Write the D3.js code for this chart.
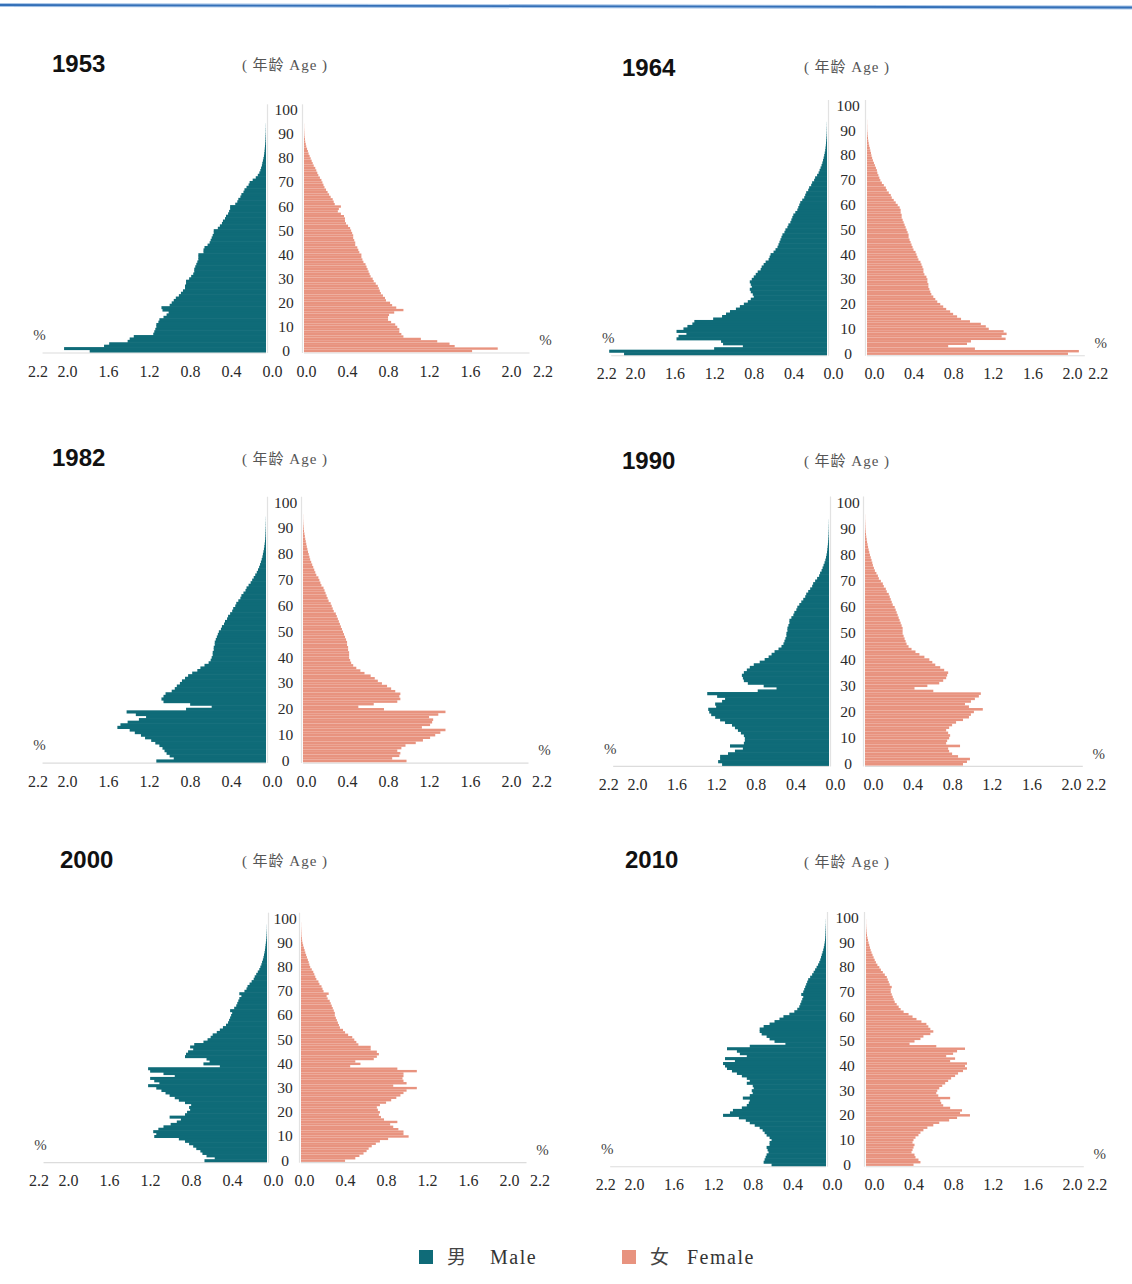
<!DOCTYPE html>
<html><head><meta charset="utf-8">
<script src="https://cdn.jsdelivr.net/npm/d3@7"></script>
<style>html,body{margin:0;padding:0;background:#fff;} svg{display:block}</style>
</head><body>
<svg id="c" width="1132" height="1284"></svg>
<script>
// ---------------- DATA (percent of total population, single years of age 0..100) ----------------
const years = ["1953","1964","1982","1990","2000","2010"];
const xTicks = [0, 0.4, 0.8, 1.2, 1.6, 2.0, 2.2];
const ageTicks = [0,10,20,30,40,50,60,70,80,90,100];
const sexLabels = [{zh:"男", en:"Male"}, {zh:"女", en:"Female"}];

const male1953 = [1.72,1.97,1.58,1.53,1.35,1.33,1.29,1.10,1.09,1.08,
1.07,1.07,1.05,1.04,1.00,0.97,0.95,1.01,1.02,0.94,
0.92,0.90,0.88,0.85,0.83,0.81,0.79,0.79,0.78,0.78,
0.75,0.73,0.71,0.70,0.70,0.69,0.68,0.67,0.66,0.66,
0.66,0.61,0.61,0.60,0.57,0.55,0.54,0.53,0.52,0.51,
0.51,0.47,0.45,0.43,0.42,0.40,0.39,0.37,0.36,0.35,
0.35,0.30,0.28,0.27,0.25,0.24,0.22,0.21,0.19,0.17,
0.16,0.13,0.10,0.08,0.065,0.055,0.048,0.04,0.036,0.03,
0.025,0.02,0.017,0.014,0.012,0.01,0.008,0.006,0.005,0.004,
0.003,0.002,0.002,0.001,0.001,0,0,0,0,0,0];
const female1953 = [1.64,1.89,1.47,1.42,1.30,1.14,0.97,0.95,0.93,0.93,
0.91,0.89,0.85,0.82,0.82,0.83,0.88,0.97,0.90,0.86,
0.84,0.80,0.79,0.77,0.75,0.74,0.73,0.72,0.70,0.68,
0.67,0.65,0.64,0.63,0.62,0.61,0.60,0.58,0.57,0.56,
0.56,0.54,0.53,0.52,0.50,0.50,0.49,0.48,0.48,0.47,
0.46,0.45,0.43,0.41,0.40,0.40,0.39,0.36,0.33,0.34,
0.36,0.30,0.29,0.28,0.26,0.245,0.23,0.215,0.20,0.19,
0.18,0.17,0.155,0.14,0.13,0.12,0.11,0.095,0.085,0.075,
0.065,0.055,0.045,0.038,0.03,0.022,0.017,0.012,0.009,0.006,
0.004,0.003,0.002,0.001,0.001,0,0,0,0,0,0];

const male1964 = [2.05,2.20,1.14,0.85,1.05,1.07,1.52,1.50,1.42,1.52,
1.45,1.41,1.36,1.34,1.15,1.06,1.02,0.98,0.92,0.88,
0.84,0.80,0.77,0.74,0.75,0.77,0.78,0.76,0.77,0.78,
0.76,0.74,0.72,0.70,0.67,0.66,0.64,0.62,0.59,0.58,
0.57,0.54,0.52,0.50,0.49,0.48,0.47,0.46,0.45,0.43,
0.42,0.40,0.39,0.37,0.36,0.35,0.34,0.32,0.30,0.29,
0.28,0.27,0.25,0.23,0.22,0.21,0.19,0.18,0.16,0.15,
0.13,0.12,0.10,0.085,0.075,0.065,0.055,0.047,0.04,0.034,
0.028,0.023,0.018,0.015,0.012,0.01,0.008,0.006,0.004,0.003,
0.002,0.002,0.001,0.001,0,0,0,0,0,0,0];
const female1964 = [2.03,2.14,1.09,0.82,1.01,1.05,1.40,1.36,1.41,1.38,
1.23,1.20,1.15,1.04,0.95,0.91,0.87,0.84,0.80,0.77,
0.74,0.71,0.69,0.67,0.65,0.64,0.63,0.62,0.62,0.61,
0.61,0.60,0.58,0.57,0.57,0.56,0.55,0.54,0.52,0.51,
0.50,0.49,0.47,0.46,0.45,0.44,0.43,0.42,0.42,0.41,
0.40,0.39,0.38,0.37,0.36,0.35,0.35,0.34,0.34,0.33,
0.31,0.29,0.27,0.25,0.24,0.22,0.20,0.19,0.17,0.15,
0.135,0.125,0.115,0.105,0.10,0.09,0.08,0.07,0.06,0.052,
0.045,0.04,0.034,0.028,0.022,0.017,0.013,0.01,0.007,0.005,
0.003,0.002,0.002,0.001,0.001,0,0,0,0,0,0];

const male1982 = [1.07,0.90,0.94,0.97,0.99,1.01,1.04,1.08,1.12,1.18,
1.22,1.28,1.33,1.45,1.42,1.35,1.24,1.17,1.27,1.36,
0.78,0.53,0.74,1.00,1.02,1.00,0.98,0.92,0.89,0.87,
0.84,0.82,0.79,0.76,0.72,0.67,0.64,0.60,0.56,0.54,
0.53,0.52,0.52,0.51,0.51,0.50,0.50,0.49,0.48,0.47,
0.46,0.44,0.43,0.41,0.40,0.38,0.37,0.35,0.33,0.32,
0.30,0.29,0.27,0.25,0.24,0.22,0.20,0.19,0.17,0.15,
0.135,0.12,0.105,0.09,0.078,0.067,0.058,0.05,0.042,0.035,
0.03,0.025,0.02,0.016,0.013,0.01,0.008,0.006,0.005,0.004,
0.003,0.002,0.002,0.001,0.001,0,0,0,0,0,0];
const female1982 = [1.01,0.87,0.94,0.95,0.92,0.96,1.00,1.10,1.17,1.24,
1.29,1.34,1.39,1.16,1.24,1.26,1.27,1.23,1.32,1.39,
0.79,0.54,0.69,0.92,0.95,0.94,0.95,0.90,0.86,0.82,
0.77,0.73,0.70,0.66,0.60,0.56,0.52,0.49,0.47,0.46,
0.45,0.45,0.45,0.44,0.44,0.43,0.43,0.42,0.41,0.40,
0.39,0.38,0.37,0.36,0.35,0.34,0.33,0.32,0.30,0.29,
0.28,0.27,0.25,0.24,0.23,0.22,0.21,0.20,0.18,0.17,
0.16,0.15,0.13,0.12,0.11,0.10,0.09,0.08,0.07,0.063,
0.056,0.049,0.043,0.037,0.032,0.027,0.022,0.018,0.014,0.01,
0.007,0.005,0.003,0.002,0.001,0.001,0,0,0,0,0];

const male1990 = [1.08,1.12,1.10,1.10,1.02,0.95,0.87,1.00,0.86,0.85,
0.85,0.86,0.89,0.92,0.95,0.98,1.05,1.10,1.15,1.19,
1.21,1.22,1.14,1.15,1.08,1.05,1.13,1.23,0.72,0.53,
0.66,0.82,0.86,0.87,0.88,0.86,0.83,0.80,0.76,0.70,
0.65,0.61,0.58,0.55,0.51,0.48,0.46,0.45,0.44,0.43,
0.43,0.42,0.42,0.41,0.40,0.40,0.38,0.36,0.35,0.33,
0.32,0.30,0.28,0.26,0.24,0.23,0.21,0.19,0.17,0.16,
0.14,0.12,0.10,0.09,0.075,0.065,0.055,0.045,0.037,0.03,
0.025,0.02,0.017,0.014,0.011,0.009,0.007,0.005,0.004,0.003,
0.002,0.002,0.001,0.001,0,0,0,0,0,0,0];
const female1990 = [0.99,1.03,1.06,0.94,0.88,0.85,0.84,0.96,0.82,0.83,
0.85,0.86,0.84,0.82,0.85,0.88,0.92,0.99,1.05,1.07,
1.10,1.19,1.05,1.01,1.07,1.11,1.15,1.17,0.69,0.50,
0.63,0.75,0.79,0.82,0.83,0.84,0.80,0.76,0.71,0.68,
0.65,0.60,0.55,0.51,0.47,0.44,0.42,0.41,0.40,0.39,
0.38,0.38,0.38,0.37,0.36,0.35,0.34,0.33,0.32,0.31,
0.30,0.28,0.27,0.26,0.25,0.24,0.22,0.21,0.19,0.18,
0.16,0.14,0.13,0.115,0.10,0.09,0.08,0.074,0.066,0.058,
0.05,0.043,0.037,0.031,0.026,0.021,0.017,0.013,0.01,0.007,
0.005,0.004,0.003,0.002,0.001,0.001,0,0,0,0,0];

const male2000 = [0.61,0.51,0.59,0.63,0.65,0.69,0.72,0.76,0.80,0.86,
1.10,1.08,1.11,1.06,1.01,0.94,0.88,0.84,0.95,0.80,
0.78,0.75,0.76,0.74,0.80,0.86,0.90,0.95,0.99,1.03,
1.08,1.16,1.05,1.10,1.14,0.90,1.01,1.14,1.16,0.46,
0.62,0.56,0.59,0.80,0.79,0.77,0.72,0.75,0.71,0.62,
0.58,0.55,0.53,0.49,0.46,0.43,0.40,0.38,0.37,0.36,
0.35,0.34,0.36,0.32,0.30,0.29,0.28,0.27,0.25,0.27,
0.22,0.20,0.19,0.17,0.15,0.13,0.12,0.105,0.09,0.075,
0.065,0.055,0.048,0.04,0.034,0.029,0.024,0.02,0.017,0.014,
0.011,0.008,0.006,0.004,0.003,0.002,0.001,0.001,0,0,0];
const female2000 = [0.43,0.53,0.57,0.61,0.64,0.66,0.69,0.73,0.77,0.85,
1.05,1.00,1.00,0.95,0.90,0.87,0.94,0.81,0.78,0.76,
0.77,0.75,0.74,0.77,0.83,0.88,0.93,0.97,1.00,1.03,
1.13,0.90,1.03,1.00,0.99,1.00,1.00,1.13,0.94,0.48,
0.58,0.53,0.71,0.74,0.76,0.74,0.68,0.68,0.56,0.54,
0.52,0.50,0.46,0.43,0.41,0.38,0.37,0.36,0.35,0.34,
0.33,0.33,0.32,0.31,0.30,0.29,0.28,0.26,0.25,0.27,
0.22,0.21,0.20,0.18,0.17,0.15,0.14,0.13,0.12,0.105,
0.09,0.082,0.075,0.067,0.058,0.05,0.042,0.035,0.028,0.021,
0.015,0.011,0.008,0.005,0.004,0.003,0.002,0.001,0.001,0,0];

const male2010 = [0.55,0.63,0.62,0.61,0.60,0.58,0.59,0.60,0.57,0.57,
0.55,0.57,0.60,0.62,0.64,0.67,0.72,0.77,0.81,0.88,
1.04,0.97,0.94,0.85,0.80,0.78,0.77,0.84,0.77,0.74,
0.75,0.73,0.74,0.80,0.77,0.80,0.85,0.90,0.95,1.00,
1.02,1.04,0.92,1.02,0.80,0.87,0.90,1.00,0.77,0.41,
0.52,0.57,0.60,0.65,0.67,0.67,0.63,0.57,0.52,0.47,
0.43,0.37,0.32,0.29,0.27,0.26,0.25,0.24,0.23,0.25,
0.23,0.22,0.21,0.20,0.19,0.18,0.16,0.14,0.125,0.11,
0.095,0.08,0.068,0.058,0.05,0.043,0.035,0.028,0.022,0.017,
0.013,0.01,0.008,0.006,0.005,0.004,0.003,0.002,0.001,0.001,0];
const female2010 = [0.48,0.55,0.53,0.50,0.49,0.46,0.47,0.48,0.49,0.47,
0.48,0.50,0.53,0.55,0.58,0.62,0.68,0.74,0.84,0.92,
1.05,0.95,0.97,0.85,0.78,0.76,0.75,0.85,0.73,0.71,
0.72,0.74,0.77,0.80,0.83,0.86,0.90,0.93,0.98,1.02,
1.00,1.02,0.85,0.90,0.81,0.88,0.92,1.00,0.71,0.44,
0.49,0.55,0.58,0.65,0.68,0.65,0.63,0.61,0.56,0.51,
0.47,0.43,0.38,0.35,0.33,0.31,0.29,0.28,0.27,0.26,
0.25,0.25,0.26,0.24,0.23,0.22,0.21,0.19,0.17,0.15,
0.135,0.115,0.10,0.088,0.077,0.066,0.056,0.047,0.04,0.033,
0.026,0.02,0.015,0.01,0.007,0.005,0.003,0.002,0.001,0.001,0];

const maleSeries   = {"1953":male1953,"1964":male1964,"1982":male1982,"1990":male1990,"2000":male2000,"2010":male2010};
const femaleSeries = {"1953":female1953,"1964":female1964,"1982":female1982,"1990":female1990,"2000":female2000,"2010":female2010};

// ---------------- LAYOUT ----------------
const layout = {
  "1953": {zL:266, zR:304, y0:351.0, step:2.407, k:102.5, tx:52,  ty:63,  ax:285, ay:65,  rs:2},
  "1964": {zL:827, zR:867, y0:353.7, step:2.477, k:99,    tx:622, ty:67,  ax:847, ay:67,  rs:7},
  "1982": {zL:266, zR:303, y0:761.0, step:2.583, k:102.5, tx:52,  ty:457, ax:285, ay:459, rs:3},
  "1990": {zL:829, zR:865, y0:764.3, step:2.617, k:99,    tx:622, ty:460, ax:847, ay:461, rs:8},
  "2000": {zL:267, zR:301, y0:1160.7,step:2.420, k:102.5, tx:60,  ty:859, ax:285, ay:861, rs:3},
  "2010": {zL:826, zR:866, y0:1164.7,step:2.467, k:99,    tx:625, ty:859, ax:847, ay:862, rs:8}
};
const colMale = "#0f6b78", colFemale = "#e8937f";
const serif = "'Liberation Serif','Times New Roman','Noto Sans CJK SC',serif";
const sans = "'Liberation Sans',Arial,sans-serif";

const svg = d3.select("#c");
svg.append("rect").attr("width",1132).attr("height",1284).attr("fill","#fff");
svg.append("line").attr("x1",0).attr("y1",5).attr("x2",1132).attr("y2",7.5)
   .attr("stroke","#a9c6e8").attr("stroke-width",4);
svg.append("line").attr("x1",0).attr("y1",5).attr("x2",1132).attr("y2",7.5)
   .attr("stroke","#3470b8").attr("stroke-width",1.8);

years.forEach(yr => {
  const L = layout[yr];
  const g = svg.append("g");
  const y  = d3.scaleLinear().domain([0,100]).range([L.y0, L.y0 - 100*L.step]);
  const xl = d3.scaleLinear().domain([0,2.2]).range([L.zL, L.zL - 2.2*L.k]);
  const xr = d3.scaleLinear().domain([0,2.2]).range([L.zR, L.zR + 2.2*L.k]);
  const h = L.step;
  const base = L.y0 + h/2 + 0.8;

  // faint axis lines
  g.append("line").attr("x1",xl(0)).attr("x2",xl(2.18)).attr("y1",base).attr("y2",base)
    .attr("stroke","#dcdcdc").attr("stroke-width",1.2);
  g.append("line").attr("x1",xr(0)).attr("x2",xr(2.2)).attr("y1",base).attr("y2",base)
    .attr("stroke","#dcdcdc").attr("stroke-width",1.2);
  g.append("line").attr("x1",xl(0)+1.5).attr("x2",xl(0)+1.5).attr("y1",y(100)-6).attr("y2",base)
    .attr("stroke","#e2e2e2").attr("stroke-width",1.2);
  g.append("line").attr("x1",xr(0)-1.5).attr("x2",xr(0)-1.5).attr("y1",y(100)-6).attr("y2",base)
    .attr("stroke","#e2e2e2").attr("stroke-width",1.2);

  const md = maleSeries[yr].map((v,i)=>({age:i, v}));
  const fd = femaleSeries[yr].map((v,i)=>({age:i, v}));
  g.append("g").selectAll("rect").data(md).join("rect")
    .attr("x", d => xl(d.v)).attr("width", d => xl(0) - xl(d.v))
    .attr("y", d => y(d.age) - h/2 - 0.3).attr("height", h + 0.6)
    .attr("fill", colMale);
  g.append("g").selectAll("rect").data(fd).join("rect")
    .attr("x", xr(0)).attr("width", d => xr(d.v) - xr(0))
    .attr("y", d => y(d.age) - h/2).attr("height", h - 0.05)
    .attr("fill", colFemale);

  // x axes (tick labels only)
  const fmt = d3.format(".1f");
  const axL = g.append("g").attr("transform",`translate(0,${L.y0+20})`)
    .call(d3.axisBottom(xl).tickValues(xTicks).tickFormat(fmt).tickSize(0));
  const axR = g.append("g").attr("transform",`translate(0,${L.y0+20})`)
    .call(d3.axisBottom(xr).tickValues(xTicks).tickFormat(fmt).tickSize(0));
  [axL, axR].forEach((ax, side) => {
    ax.select(".domain").remove();
    ax.attr("font-family", null).attr("font-size", null);
    ax.selectAll("text").attr("y",0).attr("dy","0.35em")
      .attr("dx", d => side===0 ? (d===2.2 ? -3 : 6) : (d===2.2 ? 13 : L.rs))
      .style("font-family", serif).style("font-size","16px").attr("fill","#2a2a2a");
  });

  // age axis in the middle
  const cx = (L.zL + L.zR)/2 + 1;
  const axA = g.append("g").attr("transform",`translate(${cx},0)`)
    .call(d3.axisRight(y).tickValues(ageTicks).tickSize(0));
  axA.select(".domain").remove();
  axA.attr("font-family", null).attr("font-size", null);
  axA.selectAll("text").attr("x",0).attr("dy","0.35em").attr("text-anchor","middle")
    .attr("y", -1)
    .style("font-family", serif).style("font-size","15.5px").attr("fill","#2a2a2a");

  // % labels
  g.append("text").attr("x", xl(2.2)-1).attr("y", L.y0-16).attr("dy","0.35em")
    .attr("text-anchor","middle").style("font-family",serif).style("font-size","15px").attr("fill","#444").text("%");
  g.append("text").attr("x", xr(2.2)+16).attr("y", L.y0-11).attr("dy","0.35em")
    .attr("text-anchor","middle").style("font-family",serif).style("font-size","15px").attr("fill","#444").text("%");

  // titles
  g.append("text").attr("x", L.tx).attr("y", L.ty).attr("dy","0.36em")
    .style("font-family",sans).style("font-weight","bold").style("font-size","24px").attr("fill","#111").text(yr);
  g.append("text").attr("x", L.ax).attr("y", L.ay).attr("dy","0.35em").attr("text-anchor","middle")
    .style("font-family",serif).style("font-size","15px").style("letter-spacing","1px")
    .attr("fill","#555").text("( 年龄 Age )");
});

// legend
const legend = svg.append("g");
const legendItems = [{x:419, col:colMale, lab:sexLabels[0]}, {x:622, col:colFemale, lab:sexLabels[1]}];
legendItems.forEach((it, i) => {
  legend.append("rect").attr("x", it.x).attr("y", 1250).attr("width",14).attr("height",14).attr("fill", it.col);
  legend.append("text").attr("x", it.x + 28).attr("y", 1257).attr("dy","0.36em")
    .style("font-family","'Noto Sans CJK SC',sans-serif").style("font-size","19px").attr("fill","#444").text(it.lab.zh);
  legend.append("text").attr("x", it.x + (i===0 ? 71 : 65)).attr("y", 1257).attr("dy","0.36em")
    .style("font-family",serif).style("font-size","20px").style("letter-spacing","1.5px").attr("fill","#333").text(it.lab.en);
});
</script>
</body></html>
